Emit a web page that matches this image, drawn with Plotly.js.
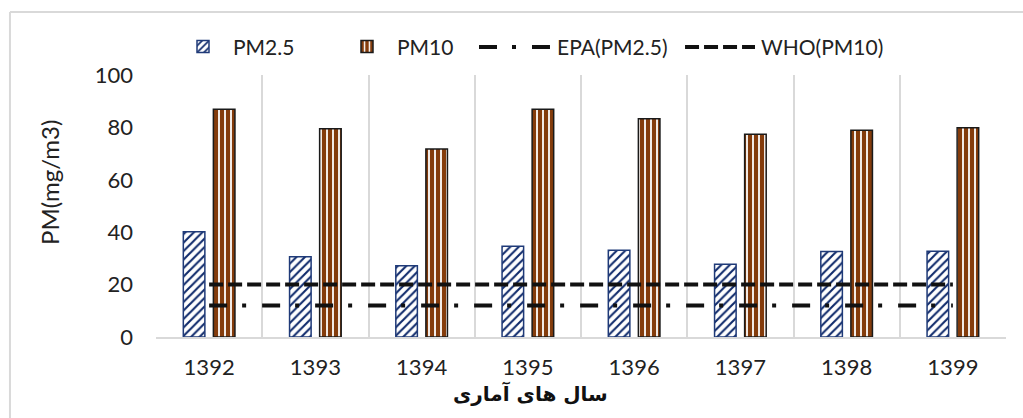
<!DOCTYPE html>
<html>
<head>
<meta charset="utf-8">
<script src="https://cdn.plot.ly/plotly-3.0.1.min.js"></script>
<style>html,body{margin:0;padding:0;background:#fff;}#chart{width:1023px;height:418px;}</style>
</head>
<body>
<div id="chart"></div>
<script>
const years = ['1392','1393','1394','1395','1396','1397','1398','1399'];
const pm25 = [40.2, 30.6, 27.2, 34.6, 33.1, 27.8, 32.6, 32.7];
const pm10 = [86.9, 79.5, 71.8, 86.9, 83.3, 77.4, 78.9, 79.9];
const epaLimit = [12, 12, 12, 12, 12, 12, 12, 12];
const whoLimit = [20, 20, 20, 20, 20, 20, 20, 20];
const yTicks = [0, 20, 40, 60, 80, 100];
const seriesNames = ['PM2.5', 'PM10', 'EPA(PM2.5)', 'WHO(PM10)'];
const xTitle = 'سال های آماری';
const yTitle = 'PM(mg/m3)';

const font = 'Lato, "Open Sans", "Liberation Sans", sans-serif';
const epaDash = '18px,15px,4px,16px';
const whoDash = '14px,5px';

const traces = [
  {
    type: 'bar', name: seriesNames[0], x: years, y: pm25,
    marker: {
      color: '#ffffff',
      line: {color: '#1f3a78', width: 1.5},
      pattern: {shape: '/', fgcolor: '#0f2a6b', bgcolor: '#ffffff', size: 6, solidity: 0.35}
    }
  },
  {
    type: 'bar', name: seriesNames[1], x: years, y: pm10,
    marker: {
      color: '#843c0c',
      line: {color: '#1a1a1a', width: 1.5},
      pattern: {shape: '|', fgcolor: '#ffffff', bgcolor: '#843c0c', size: 6, solidity: 0.3}
    }
  },
  {
    type: 'scatter', mode: 'lines', name: seriesNames[2], x: years, y: epaLimit, showlegend: false,
    line: {color: '#111111', width: 4, dash: epaDash}
  },
  {
    type: 'scatter', mode: 'lines', name: seriesNames[3], x: years, y: whoLimit, showlegend: false,
    line: {color: '#111111', width: 4, dash: whoDash}
  }
];

// legend row position (paper coords)
const legY = 1.107;

const layout = {
  width: 1023, height: 418,
  margin: {l: 156, r: 17, t: 75, b: 81},
  paper_bgcolor: '#ffffff', plot_bgcolor: '#ffffff',
  font: {family: font, size: 22, color: '#222222'},
  barmode: 'group', bargap: 0.434, bargroupgap: 0.283,
  showlegend: true,
  legend: {
    orientation: 'h', x: 0.02, xanchor: 'left', y: legY, yanchor: 'middle',
    bgcolor: 'rgba(0,0,0,0)',
    font: {family: font, size: 21, color: '#222222'},
    itemwidth: 50, tracegroupgap: 0, entrywidth: 99, entrywidthmode: 'pixels'
  },
  xaxis: {
    type: 'category', tickson: 'boundaries', showgrid: true, gridcolor: '#d9d9d9', gridwidth: 2,
    showline: true, linecolor: '#d9d9d9', linewidth: 2, ticks: '',
    ticklabelstandoff: 10,
    tickfont: {family: font, size: 22, color: '#222222'},
    zeroline: false
  },
  yaxis: {
    range: [0, 100], tickvals: yTicks, ticktext: yTicks.map(String),
    showgrid: false, zeroline: false, showline: false, ticks: '',
    ticklabelstandoff: 22,
    tickfont: {family: font, size: 22, color: '#222222'}
  },
  annotations: [
    {text: xTitle, xref: 'paper', yref: 'paper', x: 0.44, y: -0.214, xanchor: 'center', yanchor: 'middle', showarrow: false,
     font: {family: '"DejaVu Sans", "Noto Sans", sans-serif', size: 20, color: '#111111', weight: 'bold'}},
    {text: yTitle, xref: 'paper', yref: 'paper', x: -0.1247, y: 0.588, xanchor: 'center', yanchor: 'middle', showarrow: false, textangle: -90,
     font: {family: font, size: 24, color: '#222222'}},
    {text: seriesNames[2], xref: 'paper', yref: 'paper', x: 0.4694, y: legY, xanchor: 'left', yanchor: 'middle', showarrow: false,
     font: {family: font, size: 21, color: '#222222'}},
    {text: seriesNames[3], xref: 'paper', yref: 'paper', x: 0.7094, y: legY, xanchor: 'left', yanchor: 'middle', showarrow: false,
     font: {family: font, size: 21, color: '#222222'}}
  ],
  shapes: [
    {type: 'line', xref: 'paper', yref: 'paper', x0: -0.1718, x1: 1.05, y0: 1.2405, y1: 1.2405, line: {color: '#d9d9d9', width: 2}},
    {type: 'line', xref: 'paper', yref: 'paper', x0: -0.1718, x1: -0.1718, y0: 1.2405, y1: -0.4, line: {color: '#d9d9d9', width: 2}},
    {type: 'line', xref: 'paper', yref: 'paper', layer: 'above', x0: 0.38, x1: 0.4635, y0: legY, y1: legY, line: {color: '#111111', width: 4, dash: epaDash}},
    {type: 'line', xref: 'paper', yref: 'paper', layer: 'above', x0: 0.6224, x1: 0.7047, y0: legY, y1: legY, line: {color: '#111111', width: 4, dash: whoDash}}
  ]
};

Plotly.newPlot('chart', traces, layout, {displayModeBar: false, staticPlot: true});
</script>
</body>
</html>
